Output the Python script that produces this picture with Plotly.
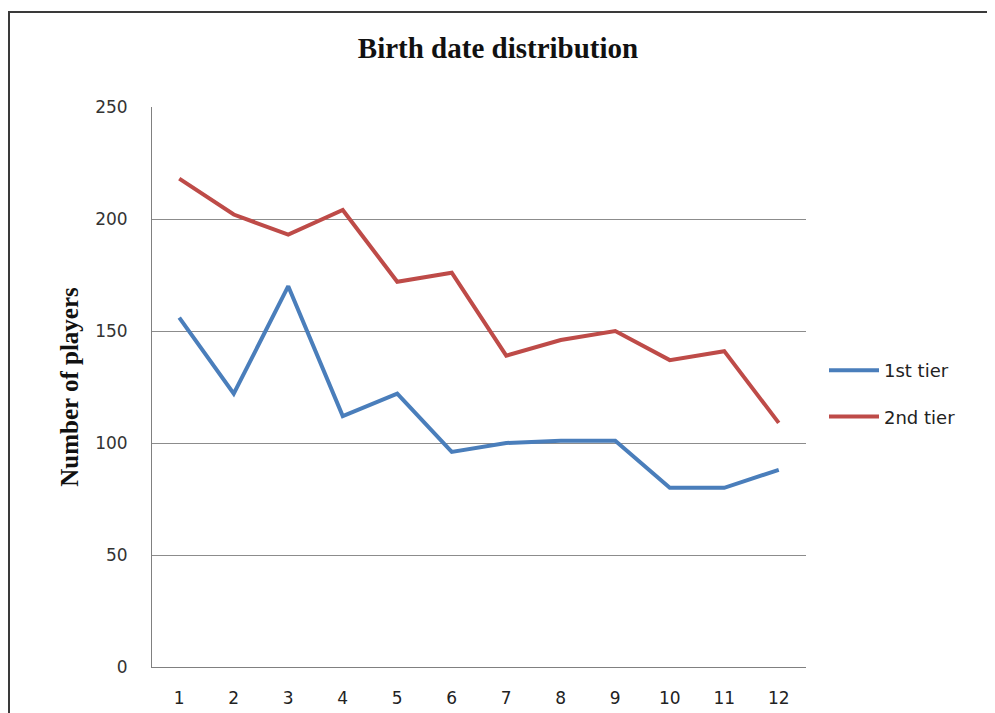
import plotly.graph_objects as go

months = [str(i) for i in range(1, 13)]
tier1 = [156, 122, 170, 112, 122, 96, 100, 101, 101, 80, 80, 88]
tier2 = [218, 202, 193, 204, 172, 176, 139, 146, 150, 137, 141, 109]
series_names = ["1st tier", "2nd tier"]
y_ticks = [0, 50, 100, 150, 200, 250]

fig = go.Figure()
fig.add_trace(go.Scatter(x=months, y=tier1, mode="lines", name=series_names[0],
                         line=dict(color="#4a7ebb", width=4), legendgroup="a"))
fig.add_trace(go.Scatter(x=months, y=tier2, mode="lines", name=series_names[1],
                         line=dict(color="#be4b48", width=4), legendgroup="b"))

W, H = 995, 713
OFF = 8  # page body margin offset
L, T = 152 - OFF, 107 - OFF
right_px, bottom_px = 806 - OFF, 667 - OFF
R, B = W - right_px, H - bottom_px
pw = W - L - R
ph = H - T - B

def px(x):
    return (x - OFF - L) / pw

def py(y):
    return (H - B - (y - OFF)) / ph

fig.update_layout(
    width=W, height=H,
    margin=dict(l=L, r=R, t=T, b=B),
    paper_bgcolor="white", plot_bgcolor="white",
    title=dict(text="<b>Birth date distribution</b>", x=(498 - OFF) / W, xref="container",
               xanchor="center",
               y=1 - (48 - OFF) / H, yanchor="middle",
               font=dict(family="Liberation Serif", size=29, color="#111111")),
    xaxis=dict(type="category", range=[-0.5, 11.5], showgrid=False,
               showline=True, linecolor="#808080", linewidth=1,
               ticks="", ticklabelstandoff=16,
               tickfont=dict(family="DejaVu Sans", size=17, color="#222222")),
    yaxis=dict(range=[0, 250], tickvals=y_ticks, showgrid=True,
               gridcolor="#8c8c8c", gridwidth=1, zeroline=False,
               showline=True, linecolor="#808080", linewidth=1,
               ticks="", ticklabelstandoff=20,
               tickfont=dict(family="DejaVu Sans", size=17, color="#333333"),
               title=dict(text="<b>Number of players</b>", standoff=9,
                          font=dict(family="Liberation Serif", size=25, color="#111111"))),
    legend=dict(x=px(824), xanchor="left", y=py(352), yanchor="top",
                font=dict(family="DejaVu Sans", size=18, color="#222222"),
                itemwidth=50,
                tracegroupgap=20, bgcolor="rgba(0,0,0,0)"),
    shapes=[dict(type="rect", xref="paper", yref="paper",
                 x0=px(9), x1=px(990), y0=py(760), y1=py(12),
                 line=dict(color="#3a3a3a", width=2), layer="below")],
)

fig.write_html("out.html")
